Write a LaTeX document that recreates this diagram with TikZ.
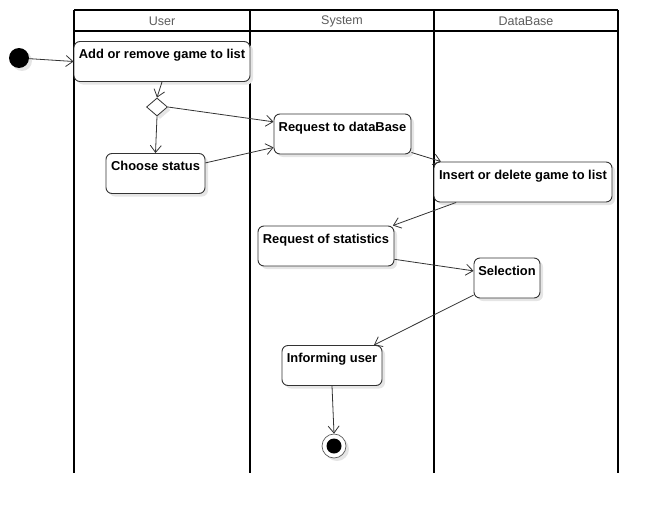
\documentclass[tikz,border=0pt]{standalone}
\usepackage{fontspec}
\setmainfont{Liberation Sans}
\usetikzlibrary{arrows.meta,shapes.geometric,shadows}
\definecolor{edge}{HTML}{333333}
\begin{document}
\begin{tikzpicture}[x=1pt,y=-1pt,
  lane/.style={line width=1.8pt,black},
  head/.style={font=\fontsize{12.5}{14}\selectfont,text=edge!80,inner sep=0pt},
  act/.style={draw=edge,line width=0.9pt,rounded corners=6pt,fill=white,
    drop shadow={shadow xshift=3pt,shadow yshift=-3pt,fill=black!10,opacity=1},
    font=\bfseries\fontsize{12.9}{15}\selectfont,inner xsep=2pt,inner ysep=5pt,
    text height=12pt,text depth=18pt},
  flow/.style={draw=edge,line width=0.8pt,-{Straight Barb[length=7pt,width=11pt]}}]
\useasboundingbox (0,0) rectangle (658,514);
% swimlanes
\draw[lane] (74,10) -- (618,10);
\draw[lane] (74,31) -- (618,31);
\draw[lane] (74,10) -- (74,473);
\draw[lane] (250,10) -- (250,473);
\draw[lane] (434,10) -- (434,473);
\draw[lane] (618,10) -- (618,473);
\node[head] (hu) at (162,21) {User};
\node[head] (hs) at (342,21) {System};
\node[head] (hd) at (526,21) {DataBase};
% start / end
\node[circle,fill=black,minimum size=20pt,inner sep=0pt,
  drop shadow={shadow xshift=3pt,shadow yshift=-3pt,fill=black!10,opacity=1}] (start) at (19,58) {};
\node[circle,draw=edge!80,line width=0.7pt,fill=white,minimum size=24pt,inner sep=0pt,
  drop shadow={shadow xshift=3pt,shadow yshift=-3pt,fill=black!10,opacity=1},
  path picture={\fill[black] (path picture bounding box.center) circle (7.5pt);}] (end) at (334,446) {};
% activities
\node[act,minimum width=176pt] (add) at (162,61.5) {Add or remove game to list};
\node[diamond,draw=edge,line width=0.8pt,fill=white,minimum width=21pt,minimum height=18pt,inner sep=0pt,aspect=1.15,
  drop shadow={shadow xshift=3pt,shadow yshift=-3pt,fill=black!10,opacity=1}] (dec) at (157,107) {};
\node[act,minimum width=99pt] (choose) at (155.5,173.5) {Choose status};
\node[act,minimum width=137pt] (reqdb) at (342.5,134) {Request to dataBase};
\node[act,minimum width=178pt] (insert) at (523,182) {Insert or delete game to list};
\node[act,minimum width=136pt] (reqstat) at (326,246) {Request of statistics};
\node[act,minimum width=66pt] (sel) at (507,278) {Selection};
\node[act,minimum width=100pt] (inform) at (332,365.5) {Informing user};
% flows
\draw[flow] (start) -- (add.west);
\draw[flow] (add.south) -- (dec.north);
\draw[flow] (dec.east) -- (reqdb.170);
\draw[flow] (dec.south) -- (choose.north);
\draw[flow] (choose.12) -- (reqdb.191);
\draw[flow] (reqdb.-15) -- (insert.166);
\draw[flow] (insert.197) -- (reqstat.17);
\draw[flow] (reqstat.-11) -- (sel.168);
\draw[flow] (sel.207) -- (inform.26);
\draw[flow] (inform.south) -- (end.north);
\end{tikzpicture}
\end{document}
